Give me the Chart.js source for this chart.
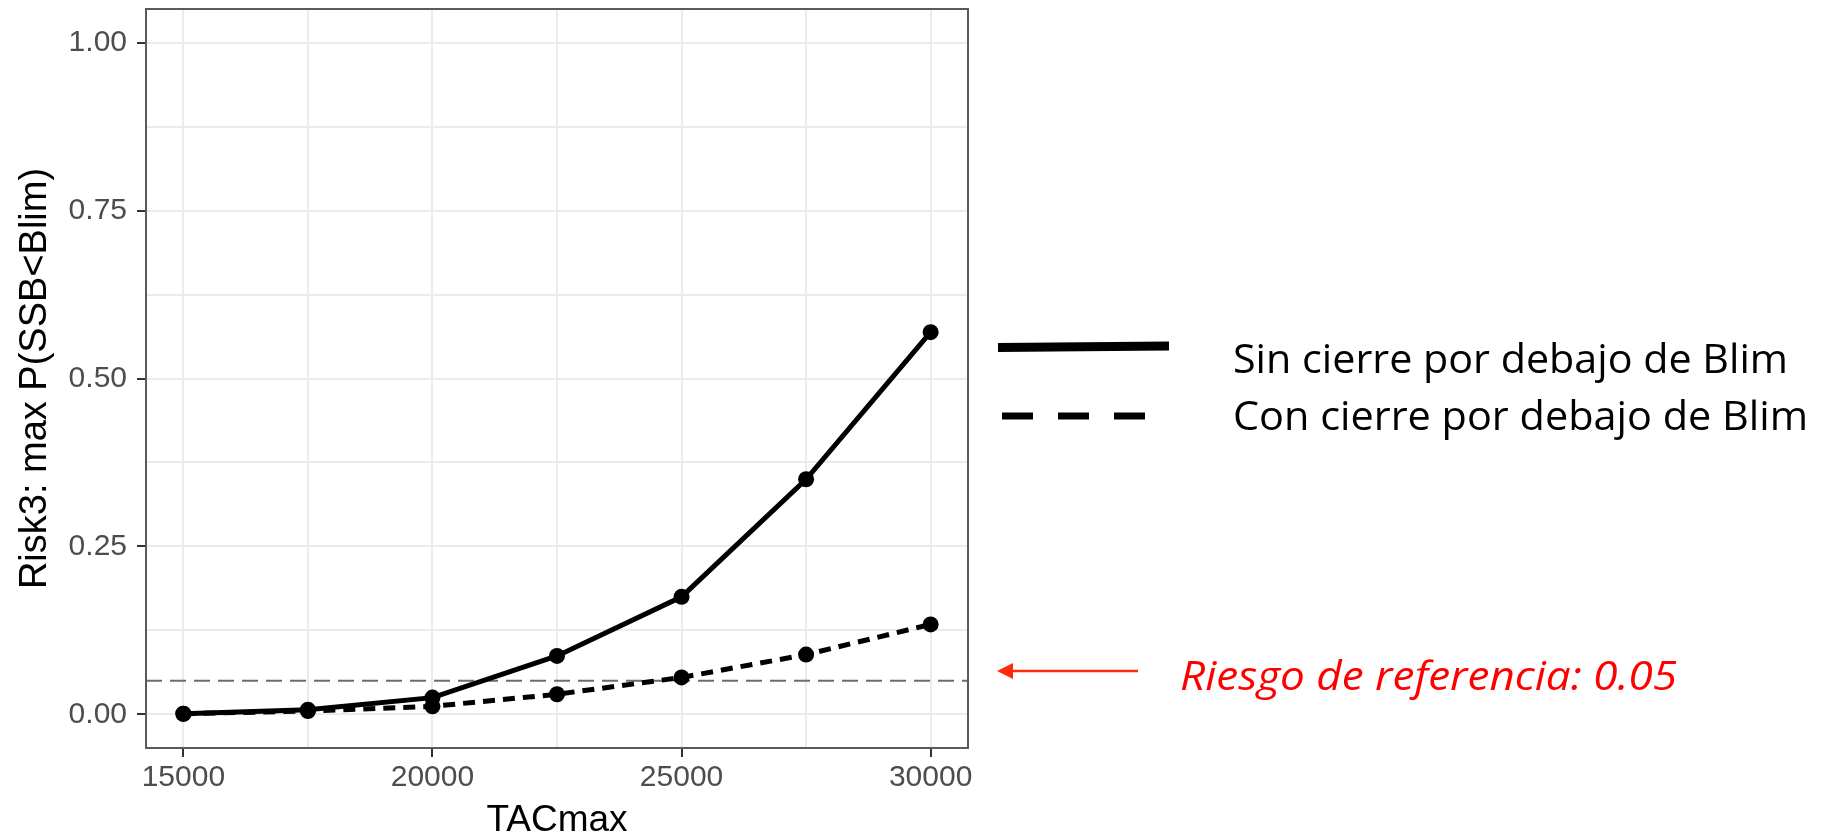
<!DOCTYPE html>
<html>
<head>
<meta charset="utf-8">
<script src="https://cdn.jsdelivr.net/npm/chart.js@4.4.1/dist/chart.umd.min.js"></script>
<style>
  html, body { margin: 0; padding: 0; background: #fff; }
  #wrap { width: 1836px; height: 838px; position: relative; }
</style>
</head>
<body>
<div id="wrap"><canvas id="riskChart" width="1836" height="838"></canvas></div>
<script>
// values
const tacMax = [15000, 17500, 20000, 22500, 25000, 27500, 30000];
const riskSinCierre = [0.001, 0.007, 0.025, 0.087, 0.175, 0.350, 0.569];
const riskConCierre = [0.001, 0.005, 0.012, 0.030, 0.055, 0.089, 0.134];
const xTickLabels = ['15000', '20000', '25000', '30000'];
const yTickLabels = ['0.00', '0.25', '0.50', '0.75', '1.00'];
const yGridValues = [0, 0.125, 0.25, 0.375, 0.5, 0.625, 0.75, 0.875, 1];
const riesgoReferencia = 0.05;
const legendLabels = ['Sin cierre por debajo de Blim', 'Con cierre por debajo de Blim'];
const refLabel = 'Riesgo de referencia: 0.05';

const toPoints = (ys) => tacMax.map((x, i) => ({ x: x, y: ys[i] }));
const isMajorX = (v) => xTickLabels.includes(String(v));
const yLabel = (v) => {
  const s = Number(v).toFixed(2);
  return yTickLabels.includes(s) && Math.abs(v * 4 - Math.round(v * 4)) < 1e-6 ? s : '';
};

// draw text stretched/condensed to a given width (legend font is Calibri-like)
function fitText(ctx, text, x, y, width, font, color) {
  ctx.save();
  ctx.font = font;
  ctx.fillStyle = color;
  ctx.textBaseline = 'alphabetic';
  ctx.textAlign = 'left';
  const w = ctx.measureText(text).width;
  ctx.translate(x, y);
  ctx.scale(width / w, 1);
  ctx.fillText(text, 0, 0);
  ctx.restore();
}

const refLinePlugin = {
  id: 'refLine',
  beforeDatasetsDraw(chart) {
    const { ctx, chartArea } = chart;
    const y = chart.scales.y.getPixelForValue(riesgoReferencia);
    ctx.save();
    ctx.strokeStyle = '#6e6e6e';
    ctx.lineWidth = 2;
    ctx.setLineDash([16, 8]);
    ctx.beginPath();
    ctx.moveTo(chartArea.left, y);
    ctx.lineTo(chartArea.right, y);
    ctx.stroke();
    ctx.restore();
  },
  afterDraw(chart) {
    const { ctx, chartArea } = chart;
    // panel border
    ctx.save();
    ctx.strokeStyle = '#5a5a5a';
    ctx.lineWidth = 2;
    ctx.strokeRect(chartArea.left, chartArea.top, chartArea.right - chartArea.left, chartArea.bottom - chartArea.top);

    // legend keys
    ctx.strokeStyle = '#000';
    ctx.lineWidth = 9;
    ctx.beginPath();
    ctx.moveTo(998, 347.5);
    ctx.lineTo(1169, 346);
    ctx.stroke();
    ctx.lineWidth = 7;
    ctx.setLineDash([31, 25]);
    ctx.beginPath();
    ctx.moveTo(1002, 416);
    ctx.lineTo(1146, 416);
    ctx.stroke();
    ctx.setLineDash([]);

    fitText(ctx, legendLabels[0], 1233, 373, 555, '40px "Open Sans", "Noto Sans", sans-serif', '#000');
    fitText(ctx, legendLabels[1], 1233, 430, 575, '40px "Open Sans", "Noto Sans", sans-serif', '#000');

    // arrow to reference line
    const ay = 671;
    ctx.strokeStyle = '#ff2a0a';
    ctx.fillStyle = '#ff2a0a';
    ctx.lineWidth = 2.5;
    ctx.beginPath();
    ctx.moveTo(1010, ay);
    ctx.lineTo(1138, ay);
    ctx.stroke();
    ctx.beginPath();
    ctx.moveTo(997, ay);
    ctx.lineTo(1013, ay - 8);
    ctx.lineTo(1013, ay + 8);
    ctx.closePath();
    ctx.fill();
    ctx.restore();

    fitText(ctx, refLabel, 1180, 690, 497, 'italic 40px "Open Sans", "Noto Sans", sans-serif', '#ff0000');
  }
};

const ctx = document.getElementById('riskChart').getContext('2d');
const riskChart = new Chart(ctx, {
  type: 'line',
  data: {
    datasets: [{
      label: legendLabels[0],
      data: toPoints(riskSinCierre),
      borderColor: '#000',
      backgroundColor: '#000',
      borderWidth: 5,
      pointRadius: 8,
      pointBorderWidth: 0,
      pointBackgroundColor: '#000',
      tension: 0
    }, {
      label: legendLabels[1],
      data: toPoints(riskConCierre),
      borderColor: '#000',
      backgroundColor: '#000',
      borderWidth: 5,
      borderDash: [12, 8],
      pointRadius: 8,
      pointBorderWidth: 0,
      pointBackgroundColor: '#000',
      tension: 0
    }]
  },
  options: {
    responsive: false,
    animation: false,
    layout: { padding: { left: 0, top: 9, right: 868, bottom: 0 } },
    plugins: {
      legend: { display: false },
      tooltip: { enabled: false }
    },
    scales: {
      x: {
        type: 'linear',
        min: 14250,
        max: 30750,
        afterBuildTicks: (s) => { s.ticks = tacMax.map((v) => ({ value: v })); },
        afterFit: (s) => { s.height = 90; s.paddingLeft = 0; s.paddingRight = 0; },
        border: { display: false },
        grid: {
          color: '#ebebeb',
          lineWidth: 2,
          tickLength: 9,
          tickColor: (c) => (c.tick && isMajorX(c.tick.value)) ? '#333' : 'rgba(0,0,0,0)',
          tickWidth: 2
        },
        ticks: {
          autoSkip: false,
          maxRotation: 0,
          padding: 3,
          color: '#4d4d4d',
          font: { family: '"Liberation Sans", Arial, sans-serif', size: 30 },
          callback: (v) => isMajorX(v) ? String(v) : ''
        },
        title: {
          display: true,
          text: 'TACmax',
          color: '#000',
          font: { family: '"Liberation Sans", Arial, sans-serif', size: 37 },
          padding: { top: 0, bottom: -5 }
        }
      },
      y: {
        min: -0.05,
        max: 1.05,
        afterBuildTicks: (s) => { s.ticks = yGridValues.map((v) => ({ value: v })); },
        afterFit: (s) => { s.width = 146; s.paddingTop = 0; s.paddingBottom = 0; },
        border: { display: false },
        grid: {
          color: '#ebebeb',
          lineWidth: 2,
          tickLength: 9,
          tickColor: (c) => (c.tick && yLabel(c.tick.value) !== '') ? '#333' : 'rgba(0,0,0,0)',
          tickWidth: 2
        },
        ticks: {
          autoSkip: false,
          padding: 10,
          color: '#4d4d4d',
          font: { family: '"Liberation Sans", Arial, sans-serif', size: 30 },
          callback: (v) => yLabel(v)
        },
        title: {
          display: true,
          text: 'Risk3: max P(SSB<Blim)',
          color: '#000',
          font: { family: '"Liberation Sans", Arial, sans-serif', size: 38 },
          padding: { top: 13, bottom: 0 }
        }
      }
    }
  },
  plugins: [refLinePlugin]
});
</script>
</body>
</html>
